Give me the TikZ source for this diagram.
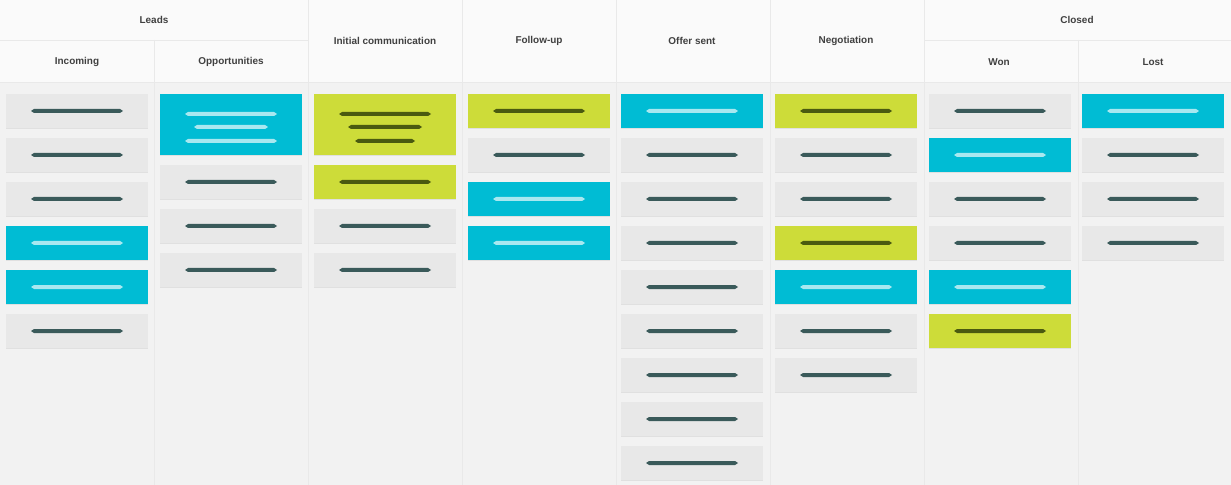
\documentclass[tikz,border=0pt]{standalone}
\usepackage{fontspec}
\setsansfont{Liberation Sans}
\usetikzlibrary{positioning}
\definecolor{boardbg}{HTML}{F2F2F2}
\definecolor{headbg}{HTML}{FAFAFA}
\definecolor{sepgray}{HTML}{E9E9E9}
\definecolor{cardg}{HTML}{E8E8E8}
\definecolor{cardc}{HTML}{00BCD4}
\definecolor{cardl}{HTML}{CDDC39}
\definecolor{lineg}{HTML}{3A5A5A}
\definecolor{linec}{HTML}{A8E8F0}
\definecolor{linel}{HTML}{4A5A10}
\tikzset{
  head/.style={font=\sffamily\bfseries\fontsize{8.5}{10}\selectfont,text=black!75},
  card/.style={inner sep=0pt,minimum width=4.26cm,minimum height=1.02cm,anchor=north west}
}
% pointed bar centred at (#1,#2), length #3, colour #4
\newcommand{\cardline}[4]{\fill[#4] (#1-#3/2,#2) -- (#1-#3/2+3,#2-2) -- (#1+#3/2-3,#2-2) -- (#1+#3/2,#2) -- (#1+#3/2-3,#2+2) -- (#1-#3/2+3,#2+2) -- cycle;}

\begin{document}
\begin{tikzpicture}[x=0.03cm,y=-0.03cm]
  \fill[boardbg] (0,0) rectangle (1231,485);
  \fill[headbg] (0,0) rectangle (1231,82);
  \useasboundingbox (0,0) rectangle (1231,485);
  % column separators
  \foreach \sx in {154,308,462,616,770,924,1078}
      \draw[sepgray] (\sx,40) -- (\sx,485);
  \foreach \sx in {308,462,616,770,924}
      \draw[sepgray] (\sx,0) -- (\sx,40);
  \draw[sepgray] (0,40) -- (308,40);
  \draw[sepgray] (924,40) -- (1231,40);
  \draw[sepgray] (0,82) -- (1231,82);

  % headers
  \node[head] (leads)  at (154,20)  {Leads};
  \node[head] (closed) at (1077,20) {Closed};
  \node[head] (incoming) at (77,62)  {Incoming};
  \node[head] (opp)      at (231,62) {Opportunities};
  \node[head] (initial)  at (385,41) {Initial communication};
  \node[head] (follow)   at (539,41) {Follow-up};
  \node[head] (offer)    at (692,41) {Offer sent};
  \node[head] (nego)     at (846,41) {Negotiation};
  \node[head] (won)      at (999,62) {Won};
  \node[head] (lost)     at (1153,62) {Lost};

  % tall cards
  \fill[black!12] (160,95) rectangle (302,156);
  \node[card,fill=cardc,minimum height=1.83cm] (opp0) at (160,94) {};
  \cardline{231}{114}{92}{linec}
  \cardline{231}{127}{74}{linec}
  \cardline{231}{141}{92}{linec}
  \fill[black!12] (314,95) rectangle (456,156);
  \node[card,fill=cardl,minimum height=1.83cm] (init0) at (314,94) {};
  \cardline{385}{114}{92}{linel}
  \cardline{385}{127}{74}{linel}
  \cardline{385}{141}{60}{linel}

  % regular cards
  \foreach \cx/\off/\list in {6/0/{g,g,g,c,c,g}, 160/71/{g,g,g}, 314/71/{l,g,g},
      468/0/{l,g,c,c}, 621/0/{c,g,g,g,g,g,g,g,g}, 775/0/{l,g,g,l,c,g,g},
      929/0/{g,c,g,g,c,l}, 1082/0/{c,g,g,g}}
    \foreach \t [count=\i] in \list {
      \pgfmathsetmacro{\cy}{94+\off+(\i-1)*44}
      \fill[black!12] (\cx,\cy+1) rectangle (\cx+142,\cy+35);
      \node[card,fill=card\t] (c\cx-\i) at (\cx,\cy) {};
      \cardline{\cx+71}{\cy+17}{92}{line\t}
    }
\end{tikzpicture}
\end{document}
